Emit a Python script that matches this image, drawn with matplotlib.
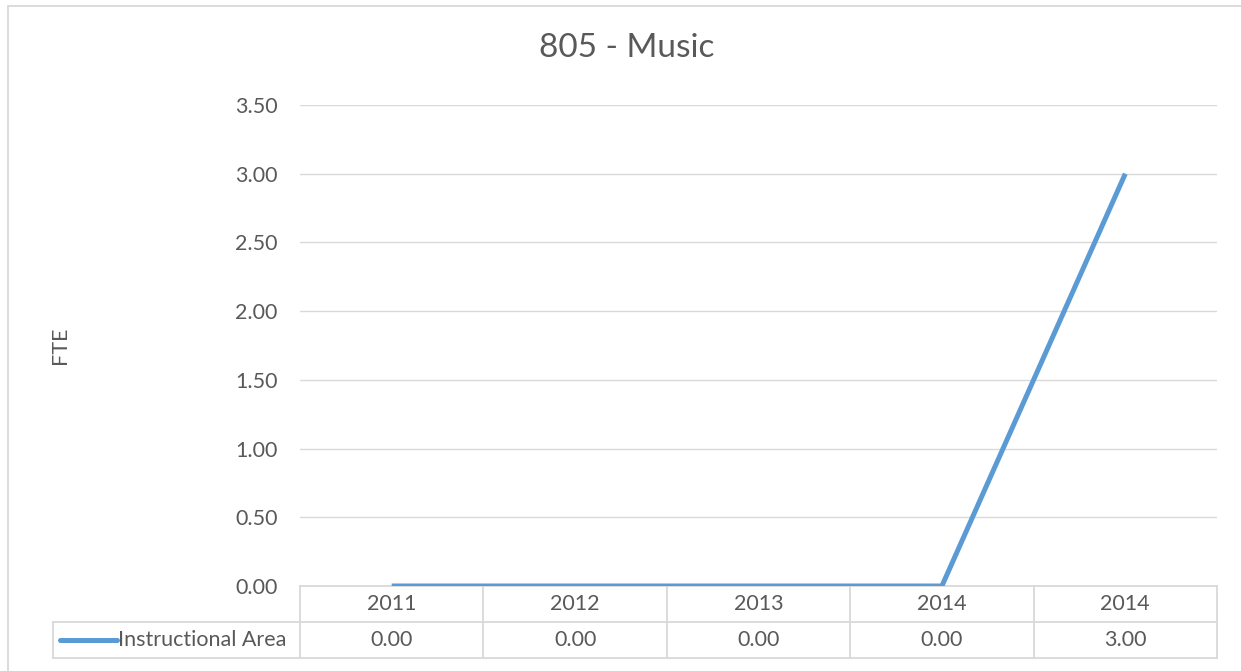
import matplotlib.pyplot as plt
import matplotlib.transforms as mtransforms
import numpy as np

plt.rcParams['font.family'] = ['Lato', 'DejaVu Sans']

years = ['2011', '2012', '2013', '2014', '2014']
fte = [0.00, 0.00, 0.00, 0.00, 3.00]
series_name = 'Instructional Area'
yticks = [0.0, 0.5, 1.0, 1.5, 2.0, 2.5, 3.0, 3.5]

line_col = '#5B9BD5'
grid_col = '#d9d9d9'
txt_col = '#595959'
fs = 15.5

W, H = 1241, 671
fig = plt.figure(figsize=(W / 100, H / 100), dpi=100)

# plot area in pixels
left, right, top, bottom = 300, 1217, 105, 586
ax = fig.add_axes([left / W, 1 - bottom / H, (right - left) / W, (bottom - top) / H])

x = np.arange(len(years))
ax.plot(x, fte, color=line_col, lw=3.6, solid_capstyle='butt', solid_joinstyle='miter', zorder=3)

ax.set_xlim(-0.5, len(years) - 0.5)
ax.set_ylim(0, 3.5)
ax.set_yticks(yticks)
ax.set_yticklabels([f'{v:.2f}' for v in yticks], color=txt_col, fontsize=fs)
ax.tick_params(axis='y', length=0, pad=16)
ax.set_xticks([])
ax.grid(axis='y', color=grid_col, lw=1)
ax.set_axisbelow(True)
for s in ax.spines.values():
    s.set_visible(False)

# title and y label
fig.text(627 / W, 1 - 48 / H, '805 - Music', ha='center', va='center', fontsize=24, color=txt_col)
fig.text(60 / W, 1 - 345 / H, 'FTE', ha='center', va='center', rotation=90, fontsize=fs, color=txt_col)

# data table below the plot
row_h = 36 / (bottom - top)
trans = mtransforms.blended_transform_factory(ax.transData, ax.transAxes)
col_w = (right - left) / len(years)
legend_left = -0.5 - (left - 53) / col_w
kw = dict(transform=trans, clip_on=False, color=grid_col, lw=1.3)

ax.plot([-0.5, len(years) - 0.5], [0, 0], **kw)
ax.plot([legend_left, len(years) - 0.5], [-row_h, -row_h], **kw)
ax.plot([legend_left, len(years) - 0.5], [-2 * row_h, -2 * row_h], **kw)
for b in np.arange(len(years) + 1) - 0.5:
    ax.plot([b, b], [0, -2 * row_h], **kw)
ax.plot([legend_left, legend_left], [-row_h, -2 * row_h], **kw)

for i, (yr, v) in enumerate(zip(years, fte)):
    ax.text(i, -0.5 * row_h, yr, transform=trans, ha='center', va='center', fontsize=fs, color=txt_col)
    ax.text(i, -1.5 * row_h, f'{v:.2f}', transform=trans, ha='center', va='center', fontsize=fs, color=txt_col)

# legend key in row label cell
key_l = legend_left + 7 / col_w
key_r = legend_left + 64 / col_w
ax.plot([key_l, key_r], [-1.5 * row_h, -1.5 * row_h], transform=trans, clip_on=False,
        color=line_col, lw=3.6, solid_capstyle='round')
ax.text(key_r + 1 / col_w, -1.5 * row_h, series_name, transform=trans, ha='left', va='center',
        fontsize=fs, color=txt_col)

# chart outer border
fig.add_artist(plt.Rectangle((8 / W, -0.01), 1.02, 1 - 6 / H + 0.01, transform=fig.transFigure,
                             fill=False, edgecolor=grid_col, lw=1.3))

fig.savefig('out.png', dpi=100)
